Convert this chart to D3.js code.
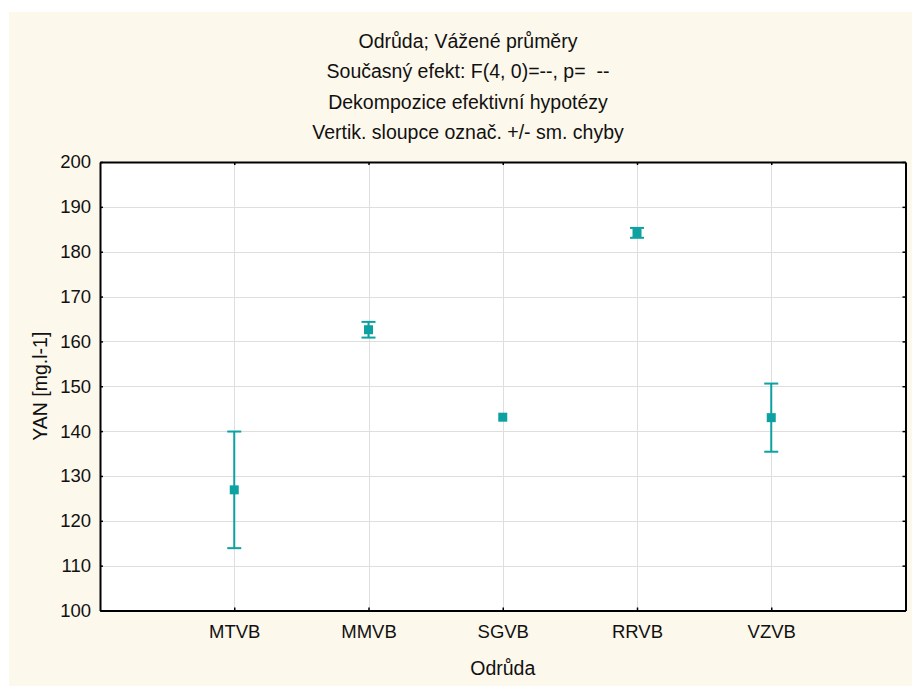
<!DOCTYPE html>
<html>
<head>
<meta charset="utf-8">
<script src="https://cdn.jsdelivr.net/npm/d3@7"></script>
<style>
  html, body { margin: 0; padding: 0; background: #ffffff; }
  svg text { font-family: "Liberation Sans", Arial, sans-serif; fill: #111; white-space: pre; }
</style>
</head>
<body>
<svg id="chart" width="912" height="686"></svg>
<script>
// Weighted means of YAN by variety, with +/- standard error
const categories = ["MTVB", "MMVB", "SGVB", "RRVB", "VZVB"];
const means      = [126.9, 162.6, 143.1, 184.2, 143.0];
const stdErrors  = [13.0, 1.75, 0.0, 1.1, 7.6];
const yTicks     = [100, 110, 120, 130, 140, 150, 160, 170, 180, 190, 200];
const titleLines = [
  "Odrůda; Vážené průměry",
  "Současný efekt: F(4, 0)=--, p=  --",
  "Dekompozice efektivní hypotézy",
  "Vertik. sloupce označ. +/- sm. chyby"
];
const xTitle = "Odrůda";
const yTitle = "YAN [mg.l-1]";

const svg = d3.select("#chart");
const W = 912, H = 686;
const plot = { left: 100, top: 162, right: 905.5, bottom: 610.5 };
const teal = "#0ea1a1";

// cream frame
svg.append("rect").attr("x", 9).attr("y", 12).attr("width", W - 9).attr("height", H - 12)
  .attr("fill", "#fdf8ec");

const x = d3.scalePoint().domain(categories).range([plot.left, plot.right]).padding(1);
const y = d3.scaleLinear().domain([100, 200]).range([plot.bottom, plot.top]);

// plot area
svg.append("rect")
  .attr("x", plot.left).attr("y", plot.top)
  .attr("width", plot.right - plot.left).attr("height", plot.bottom - plot.top)
  .attr("fill", "#ffffff");

// grid
const grid = svg.append("g").attr("stroke", "#dedede").attr("stroke-width", 1);
grid.selectAll("line.h").data(yTicks.filter(v => v > 100 && v < 200)).join("line")
  .attr("x1", plot.left).attr("x2", plot.right)
  .attr("y1", d => Math.round(y(d)) + 0.5).attr("y2", d => Math.round(y(d)) + 0.5);
grid.selectAll("line.v").data(categories).join("line")
  .attr("x1", d => Math.round(x(d)) + 0.5).attr("x2", d => Math.round(x(d)) + 0.5)
  .attr("y1", plot.top).attr("y2", plot.bottom);

// axes with inward ticks
const axisLeft = d3.axisLeft(y).tickValues(yTicks).tickSizeInner(-3).tickSizeOuter(0).tickPadding(9);
const axisRight = d3.axisRight(y).tickValues(yTicks).tickSizeInner(-3).tickSizeOuter(0).tickFormat("");
const axisBottom = d3.axisBottom(x).tickSizeInner(-3).tickSizeOuter(0).tickPadding(14);
const axisTop = d3.axisTop(x).tickSizeInner(-3).tickSizeOuter(0).tickFormat("");

function styleAxis(g) {
  g.select(".domain").attr("stroke", "#000").attr("stroke-width", 2);
  g.selectAll(".tick line").attr("stroke", "#000").attr("stroke-width", 1.5);
  g.selectAll(".tick text").attr("font-size", 18.5).attr("fill", "#111")
    .attr("font-family", "'Liberation Sans', Arial, sans-serif");
}
svg.append("g").attr("transform", `translate(${plot.left},0)`).call(axisLeft).call(styleAxis);
svg.append("g").attr("transform", `translate(${plot.right},0)`).call(axisRight).call(styleAxis);
svg.append("g").attr("transform", `translate(0,${plot.bottom})`).call(axisBottom).call(styleAxis);
svg.append("g").attr("transform", `translate(0,${plot.top})`).call(axisTop).call(styleAxis);

// error bars
const data = categories.map((c, i) => ({ c, m: means[i], se: stdErrors[i] }));
const eb = svg.append("g").attr("stroke", teal).attr("stroke-width", 2);
const withErr = data.filter(d => d.se > 0);
eb.selectAll("line.stem").data(withErr).join("line")
  .attr("x1", d => x(d.c)).attr("x2", d => x(d.c))
  .attr("y1", d => y(d.m + d.se)).attr("y2", d => y(d.m - d.se));
eb.selectAll("line.capHi").data(withErr).join("line")
  .attr("x1", d => x(d.c) - 7).attr("x2", d => x(d.c) + 7)
  .attr("y1", d => y(d.m + d.se)).attr("y2", d => y(d.m + d.se));
eb.selectAll("line.capLo").data(withErr).join("line")
  .attr("x1", d => x(d.c) - 7).attr("x2", d => x(d.c) + 7)
  .attr("y1", d => y(d.m - d.se)).attr("y2", d => y(d.m - d.se));

// mean markers
const ms = 9;
svg.append("g").selectAll("rect").data(data).join("rect")
  .attr("x", d => x(d.c) - ms / 2).attr("y", d => y(d.m) - ms / 2)
  .attr("width", ms).attr("height", ms).attr("fill", teal);

// titles
svg.append("g").selectAll("text").data(titleLines).join("text")
  .attr("x", 468).attr("y", (d, i) => 48 + i * 30.3)
  .attr("text-anchor", "middle").attr("font-size", 19.5).text(d => d);

svg.append("text").attr("x", (plot.left + plot.right) / 2).attr("y", 675)
  .attr("text-anchor", "middle").attr("font-size", 19.5).text(xTitle);

svg.append("text")
  .attr("transform", `translate(47,${(plot.top + plot.bottom) / 2}) rotate(-90)`)
  .attr("text-anchor", "middle").attr("font-size", 19.5).text(yTitle);
</script>
</body>
</html>
